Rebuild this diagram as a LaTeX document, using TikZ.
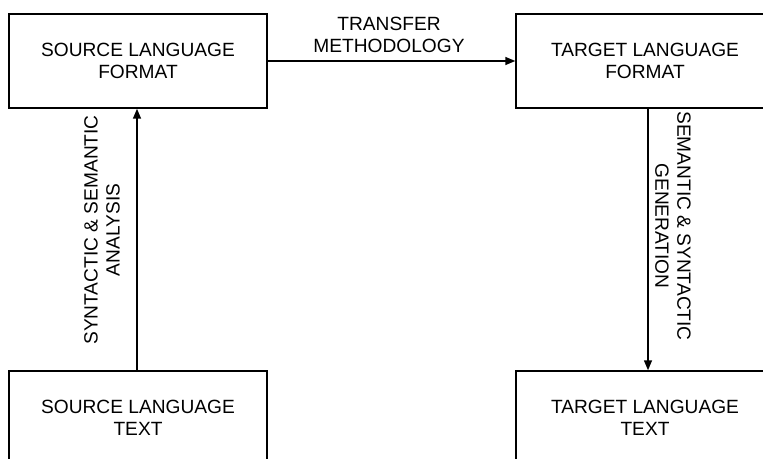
\documentclass[tikz,border=0pt]{standalone}
\usepackage{fontspec}
\setmainfont{Liberation Sans}
\usetikzlibrary{arrows.meta}

\tikzset{
  stage/.style={draw, line width=0.85pt, minimum width=5.16cm, minimum height=1.88cm,
    inner sep=0pt, align=center, font=\fontsize{10.9}{12.5}\selectfont},
  steplabel/.style={align=center, inner sep=0pt, font=\fontsize{10.9}{12.5}\selectfont},
  flow/.style={line width=0.85pt, -{Triangle[length=2mm, width=1.6mm]}}
}

\begin{document}
\begin{tikzpicture}[x=0.02cm, y=-0.02cm]
    \clip (0,0) rectangle (763,459);
    % the four stages
    \node[stage] (srcfmt)  at (138,61)  {SOURCE LANGUAGE\\FORMAT};
    \node[stage] (tgtfmt)  at (645,61)  {TARGET LANGUAGE\\FORMAT};
    \node[stage] (srctext) at (138,418) {SOURCE LANGUAGE\\TEXT};
    \node[stage] (tgttext) at (645,418) {TARGET LANGUAGE\\TEXT};
    % analysis, transfer and generation
    \draw[flow] ([xshift=-0.02cm]srctext.north) -- ([xshift=-0.02cm]srcfmt.south);
    \draw[flow] (srcfmt.east) -- (tgtfmt.west);
    \draw[flow] ([xshift=0.06cm]tgtfmt.south) -- ([xshift=0.06cm]tgttext.north);
    \node[steplabel] (transfer) at (389,35) {TRANSFER\\METHODOLOGY};
    \node[steplabel, rotate=90] (analysis) at (102,230) {SYNTACTIC \& SEMANTIC\\ANALYSIS};
    \node[steplabel, rotate=-90] (generation) at (673,226) {SEMANTIC \& SYNTACTIC\\GENERATION};
\end{tikzpicture}
\end{document}
